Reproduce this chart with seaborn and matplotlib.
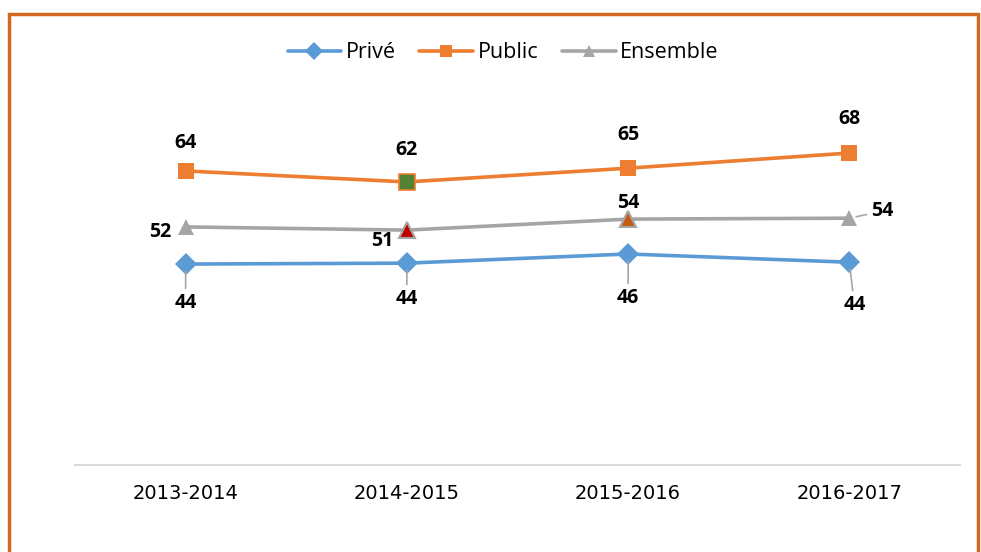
import pandas as pd
import seaborn as sns
import matplotlib.pyplot as plt
from matplotlib.lines import Line2D
from matplotlib.patches import Rectangle

# Données
annees = ['2013-2014', '2014-2015', '2015-2016', '2016-2017']
prive = [43.8, 44.0, 46.0, 44.2]
public = [64.1, 61.7, 64.7, 68.0]
ensemble = [51.9, 51.2, 53.6, 53.8]

series = ['Privé', 'Public', 'Ensemble']
couleurs = {'Privé': '#5B9BD5', 'Public': '#ED7D31', 'Ensemble': '#A5A5A5'}
marqueurs = {'Privé': 'D', 'Public': 's', 'Ensemble': '^'}

df = pd.DataFrame({
    'pos': list(range(len(annees))) * 3,
    'serie': [s for s in series for _ in annees],
    'valeur': prive + public + ensemble,
})

sns.set_theme(style='white')
plt.rcParams['font.family'] = ['Open Sans', 'DejaVu Sans']

fig = plt.figure(figsize=(9.81, 5.52), dpi=100)
ax = fig.add_axes([75 / 981, 1 - 465 / 552, 885 / 981, 367 / 552])

sns.lineplot(data=df, x='pos', y='valeur', hue='serie', style='serie',
             markers=marqueurs, dashes=False, palette=couleurs,
             linewidth=2.6, markersize=11, markeredgewidth=0,
             legend=False, ax=ax)

# points mis en couleur dans l'original
ax.plot(1, public[1], marker='s', markersize=11, color='#548235',
        markeredgecolor='#ED7D31', markeredgewidth=1.2, zorder=5)
ax.plot(1, ensemble[1], marker='^', markersize=11, color='#C00000',
        markeredgecolor='#A5A5A5', markeredgewidth=1.5, zorder=5)
ax.plot(2, ensemble[2], marker='^', markersize=11, color='#C55A11',
        markeredgecolor='#A5A5A5', markeredgewidth=1.5, zorder=5)

# étiquettes de valeurs (décalages en pixels)
decalages = {
    'Public': [(0, 28), (0, 32), (0, 33), (0, 34)],
    'Privé': [(0, -39), (0, -36), (0, -44), (5, -43)],
    'Ensemble': [(-25, -5), (-25, -11), (0, 16), (33, 7)],
}
valeurs = {'Privé': prive, 'Public': public, 'Ensemble': ensemble}
repere = dict(arrowstyle='-', color='#A6A6A6', lw=1.2, shrinkA=1, shrinkB=5)
for s in series:
    for i, v in enumerate(valeurs[s]):
        dx, dy = decalages[s][i]
        fleche = repere if (s == 'Privé' or (s == 'Ensemble' and i == 3)) else None
        ax.annotate(f'{v:.0f}', xy=(i, v), xytext=(dx, dy),
                    textcoords='offset pixels', ha='center', va='center',
                    fontsize=14, fontweight='bold', color='black',
                    arrowprops=fleche, zorder=6)

ax.set_xlim(-0.5, len(annees) - 0.5)
ax.set_ylim(0, 80)
ax.set_xticks(range(len(annees)))
ax.set_xticklabels(annees, fontfamily='DejaVu Sans', fontsize=14, color='black')
ax.tick_params(axis='x', length=0, pad=14)
ax.set_yticks([])
ax.set_xlabel('')
ax.set_ylabel('')
for cote in ['top', 'left', 'right']:
    ax.spines[cote].set_visible(False)
ax.spines['bottom'].set_color('#D9D9D9')
ax.spines['bottom'].set_linewidth(1.5)

# légende
poignees = [Line2D([0], [0], color=couleurs[s], marker=marqueurs[s], lw=2.6,
                   markersize=9, markeredgewidth=0) for s in series]
leg = fig.legend(poignees, series, loc='center', bbox_to_anchor=(503 / 981, 1 - 53 / 552),
                 ncol=3, frameon=False, fontsize=15.5, handlelength=2.5,
                 handletextpad=0.2, columnspacing=1.1)
for t in leg.get_texts():
    t.set_color('black')

# cadre orange
fig.add_artist(Rectangle((9 / 981, -0.1), (978 - 9) / 981, 1 - 14 / 552 + 0.1,
                         transform=fig.transFigure, fill=False,
                         edgecolor='#D2691E', linewidth=2.5, clip_on=False))

fig.savefig('out.png', dpi=100)
